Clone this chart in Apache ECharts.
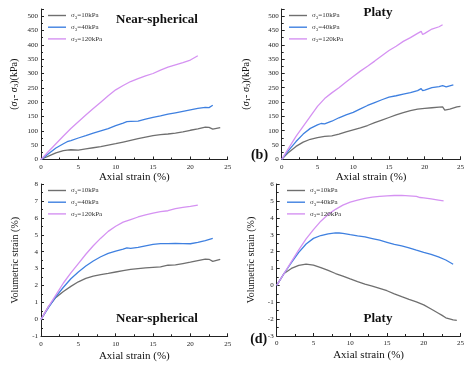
<!DOCTYPE html>
<html>
<head>
<meta charset="utf-8">
<script src="https://cdn.jsdelivr.net/npm/echarts@6/dist/echarts.min.js"></script>
<style>
  html, body { margin: 0; padding: 0; background: #fff; }
  #chart { width: 467px; height: 365px; }
</style>
</head>
<body>
<div id="chart"></div>
<script>
// series names (confining pressure)
const seriesNames = ['10kPa', '40kPa', '120kPa'];
const lineColors = ['#6f6f6f', '#3f80e0', '#d592f2'];

// (a) Near-spherical, deviator stress
const aX120 = [0, 0.5, 1, 2, 3, 4, 5, 6, 7, 8, 9, 10, 11, 12, 13, 14, 15, 16, 17, 18, 19, 20, 21];
const aY120 = [0, 14, 28, 55, 82, 108, 132, 155, 178, 200, 222, 243, 258, 272, 282, 292, 300, 312, 322, 330, 338, 347, 362];
const aX40 = [0, 0.5, 1, 2, 3, 3.5, 4, 5, 6, 7, 8, 9, 10, 11, 11.5, 12, 13, 14, 15, 16, 17, 18, 19, 20, 21, 22, 22.5, 23];
const aY40 = [0, 10, 20, 40, 55, 62, 66, 75, 83, 92, 100, 108, 118, 127, 132, 133, 134, 141, 147, 152, 158, 163, 168, 173, 178, 182, 181, 189];
const aX10 = [0, 0.5, 1, 2, 3, 3.5, 4, 5, 6, 7, 8, 9, 10, 11, 12, 13, 14, 15, 16, 17, 18, 19, 20, 21, 22, 22.5, 23, 24];
const aY10 = [0, 6, 12, 23, 31, 33, 34, 33, 37, 41, 45, 50, 55, 61, 67, 73, 78, 83, 87, 89, 92, 96, 102, 107, 113, 112, 106, 111];

// (b) Platy, deviator stress
const bX120 = [0, 1, 2, 3, 4, 5, 6, 7, 8, 9, 10, 11, 12, 13, 14, 15, 16, 17, 18, 19, 19.5, 19.7, 20, 21, 22, 22.5];
const bY120 = [0, 40, 80, 115, 150, 185, 212, 232, 250, 270, 289, 308, 325, 343, 362, 380, 395, 412, 425, 440, 447, 436, 440, 455, 463, 470];
const bX40 = [0, 1, 2, 3, 4, 5, 5.5, 6, 7, 8, 9, 10, 11, 12, 13, 14, 15, 16, 17, 18, 19, 19.5, 19.7, 20, 21, 22, 22.5, 23, 24];
const bY40 = [0, 32, 62, 88, 108, 120, 125, 124, 133, 145, 155, 164, 176, 188, 198, 208, 217, 222, 228, 233, 240, 247, 240, 242, 250, 254, 257, 253, 260];
const bX10 = [0, 1, 2, 3, 4, 5, 6, 7, 8, 9, 10, 11, 12, 13, 14, 15, 16, 17, 18, 19, 20, 21, 22, 22.5, 22.8, 23.5, 24.5, 25];
const bY10 = [0, 25, 45, 60, 70, 76, 80, 82, 88, 96, 103, 110, 118, 128, 137, 146, 155, 163, 170, 175, 178, 180, 182, 183, 172, 175, 183, 185];

// (c) Near-spherical, volumetric strain
const cX120 = [0, 1, 2, 3, 4, 5, 6, 7, 8, 9, 10, 11, 12, 13, 14, 15, 16, 17, 18, 19, 20, 21];
const cY120 = [0, 0.75, 1.45, 2.15, 2.75, 3.3, 3.85, 4.35, 4.8, 5.2, 5.5, 5.75, 5.9, 6.05, 6.18, 6.28, 6.37, 6.42, 6.55, 6.62, 6.68, 6.75];
const cX40 = [0, 1, 2, 3, 4, 5, 6, 7, 8, 9, 10, 11, 11.5, 12, 13, 14, 15, 16, 17, 18, 19, 20, 21, 22, 23];
const cY40 = [0, 0.7, 1.35, 1.9, 2.4, 2.8, 3.15, 3.45, 3.7, 3.9, 4.03, 4.15, 4.22, 4.2, 4.25, 4.35, 4.43, 4.48, 4.48, 4.49, 4.48, 4.47, 4.55, 4.65, 4.78];
const cX10 = [0, 1, 2, 3, 4, 5, 6, 7, 8, 9, 10, 11, 12, 13, 14, 15, 16, 17, 18, 19, 20, 21, 22, 22.5, 23, 24];
const cY10 = [0, 0.75, 1.3, 1.65, 1.95, 2.22, 2.42, 2.55, 2.65, 2.72, 2.8, 2.88, 2.95, 3.0, 3.04, 3.07, 3.1, 3.2, 3.22, 3.3, 3.38, 3.47, 3.56, 3.55, 3.43, 3.54];

// (d) Platy, volumetric strain
const dX120 = [0, 1, 2, 3, 4, 5, 6, 7, 8, 9, 10, 11, 12, 13, 14, 15, 16, 17, 18, 19, 19.5, 20, 21, 22, 22.7];
const dY120 = [0, 0.7, 1.4, 2.1, 2.75, 3.3, 3.8, 4.2, 4.5, 4.75, 4.93, 5.05, 5.15, 5.22, 5.27, 5.3, 5.32, 5.33, 5.3, 5.27, 5.2, 5.18, 5.12, 5.05, 5.0];
const dX40 = [0, 1, 2, 3, 4, 5, 6, 7, 8, 8.5, 9, 10, 11, 12, 13, 14, 15, 16, 17, 18, 19, 20, 21, 22, 23, 24];
const dY40 = [0, 0.7, 1.35, 1.95, 2.45, 2.78, 2.95, 3.05, 3.1, 3.1, 3.08, 3.0, 2.93, 2.87, 2.77, 2.67, 2.55, 2.43, 2.33, 2.22, 2.08, 1.95, 1.83, 1.68, 1.5, 1.25];
const dX10 = [0, 1, 2, 3, 4, 5, 6, 7, 8, 9, 10, 11, 12, 13, 14, 15, 16, 17, 18, 19, 20, 21, 22, 22.5, 23, 24, 24.5];
const dY10 = [0, 0.7, 1.0, 1.18, 1.26, 1.2, 1.05, 0.88, 0.7, 0.55, 0.38, 0.22, 0.07, -0.05, -0.18, -0.32, -0.5, -0.67, -0.83, -0.98, -1.16, -1.4, -1.65, -1.78, -1.92, -2.05, -2.08];

const serif = '"Liberation Serif", "DejaVu Serif", serif';

function pairs(xs, ys) {
  return xs.map((x, i) => [x, ys[i]]);
}

function xAxisFor(gridIndex, gap) {
  return {
    type: 'value', gridIndex, min: 0, max: 25, interval: 5,
    name: 'Axial strain (%)', nameLocation: 'middle', nameGap: gap,
    nameTextStyle: { fontFamily: serif, fontSize: 11, color: '#111' },
    axisLine: { show: true, onZero: false, lineStyle: { color: '#222', width: 1 } },
    axisTick: { show: true, inside: true, length: 3, lineStyle: { color: '#222' } },
    minorTick: { show: true, splitNumber: 2, length: 2, lineStyle: { color: '#222' } },
    axisLabel: { fontFamily: serif, fontSize: 7, color: '#222', margin: 4 },
    splitLine: { show: false },
  };
}

function yAxisFor(gridIndex, min, max, interval, name, gap, showMax) {
  return {
    type: 'value', gridIndex, min, max, interval,
    name, nameLocation: 'middle', nameGap: gap,
    nameTextStyle: {
      fontFamily: serif, fontSize: 10, color: '#111',
      rich: {
        i: { fontFamily: serif, fontSize: 10, fontStyle: 'italic', color: '#111' },
        s: { fontFamily: serif, fontSize: 7, color: '#111', verticalAlign: 'bottom', padding: [4, 0, 0, 0] },
        t: { fontFamily: serif, fontSize: 10, color: '#111' },
      },
    },
    axisLine: { show: true, onZero: false, lineStyle: { color: '#222', width: 1 } },
    axisTick: { show: true, inside: true, length: 3, lineStyle: { color: '#222' } },
    minorTick: { show: true, splitNumber: 2, length: 2, lineStyle: { color: '#222' } },
    axisLabel: { fontFamily: serif, fontSize: 7, color: '#222', margin: 3, showMaxLabel: showMax },
    splitLine: { show: false },
  };
}

function legendFor(left, top) {
  return {
    left, top, orient: 'vertical',
    icon: 'rect', itemWidth: 18, itemHeight: 1.4, itemGap: 2.7,
    data: seriesNames,
    formatter: (name) => '{t|\u03c3}{s|3}{t|=' + name + '}',
    textStyle: {
      fontFamily: serif, fontSize: 7, color: '#333', lineHeight: 9,
      rich: {
        t: { fontFamily: serif, fontSize: 7, color: '#333', lineHeight: 9 },
        s: { fontFamily: serif, fontSize: 5, color: '#333', verticalAlign: 'bottom', padding: [3, 0, 0, 0] },
      },
    },
  };
}

const panelData = [
  [pairs(aX10, aY10), pairs(aX40, aY40), pairs(aX120, aY120)],
  [pairs(bX10, bY10), pairs(bX40, bY40), pairs(bX120, bY120)],
  [pairs(cX10, cY10), pairs(cX40, cY40), pairs(cX120, cY120)],
  [pairs(dX10, dY10), pairs(dX40, dY40), pairs(dX120, dY120)],
];

const series = [];
panelData.forEach((panel, p) => {
  panel.forEach((data, k) => {
    series.push({
      type: 'line', name: seriesNames[k], xAxisIndex: p, yAxisIndex: p,
      data, symbol: 'none', smooth: false, z: k === 2 ? 3 : 2,
      color: lineColors[k],
      lineStyle: { color: lineColors[k], width: 1.3 },
    });
  });
});

const stressName = '{t|(}{i|\u03c3}{s|1}{t|- }{i|\u03c3}{s|3}{t|)(kPa)}';

function label(text, x, y, size) {
  return {
    type: 'text', x, y,
    style: { text, fontFamily: serif, fontSize: size, fontWeight: 'bold', fill: '#111', align: 'center', verticalAlign: 'middle' },
  };
}

const chart = echarts.init(document.getElementById('chart'), null, { renderer: 'canvas' });
chart.setOption({
  animation: false,
  backgroundColor: '#fff',
  grid: [
    { left: 41, top: 9, width: 186.7, height: 150.5 },
    { left: 281.7, top: 9, width: 184.6, height: 150.3 },
    { left: 41, top: 184, width: 186.7, height: 152.3 },
    { left: 276.7, top: 184, width: 190.8, height: 152 },
  ],
  xAxis: [xAxisFor(0, 12), xAxisFor(1, 12), xAxisFor(2, 14), xAxisFor(3, 14)],
  yAxis: [
    yAxisFor(0, 0, 525, 50, stressName, 21, false),
    yAxisFor(1, 0, 525, 50, stressName, 30, false),
    yAxisFor(2, -1, 8, 1, 'Volumetric strain (%)', 21, true),
    yAxisFor(3, -3, 6, 1, 'Volumetric strain (%)', 20, true),
  ],
  legend: [legendFor(43, 6), legendFor(284, 6), legendFor(43, 181), legendFor(282, 181)],
  graphic: [
    label('Near-spherical', 157, 20, 13),
    label('Platy', 378, 13, 13),
    label('Near-spherical', 157, 319, 13),
    label('Platy', 378, 319, 13),
    label('(b)', 259.5, 155, 14),
    label('(d)', 258.7, 339, 14),
  ],
  series,
});
</script>
</body>
</html>
